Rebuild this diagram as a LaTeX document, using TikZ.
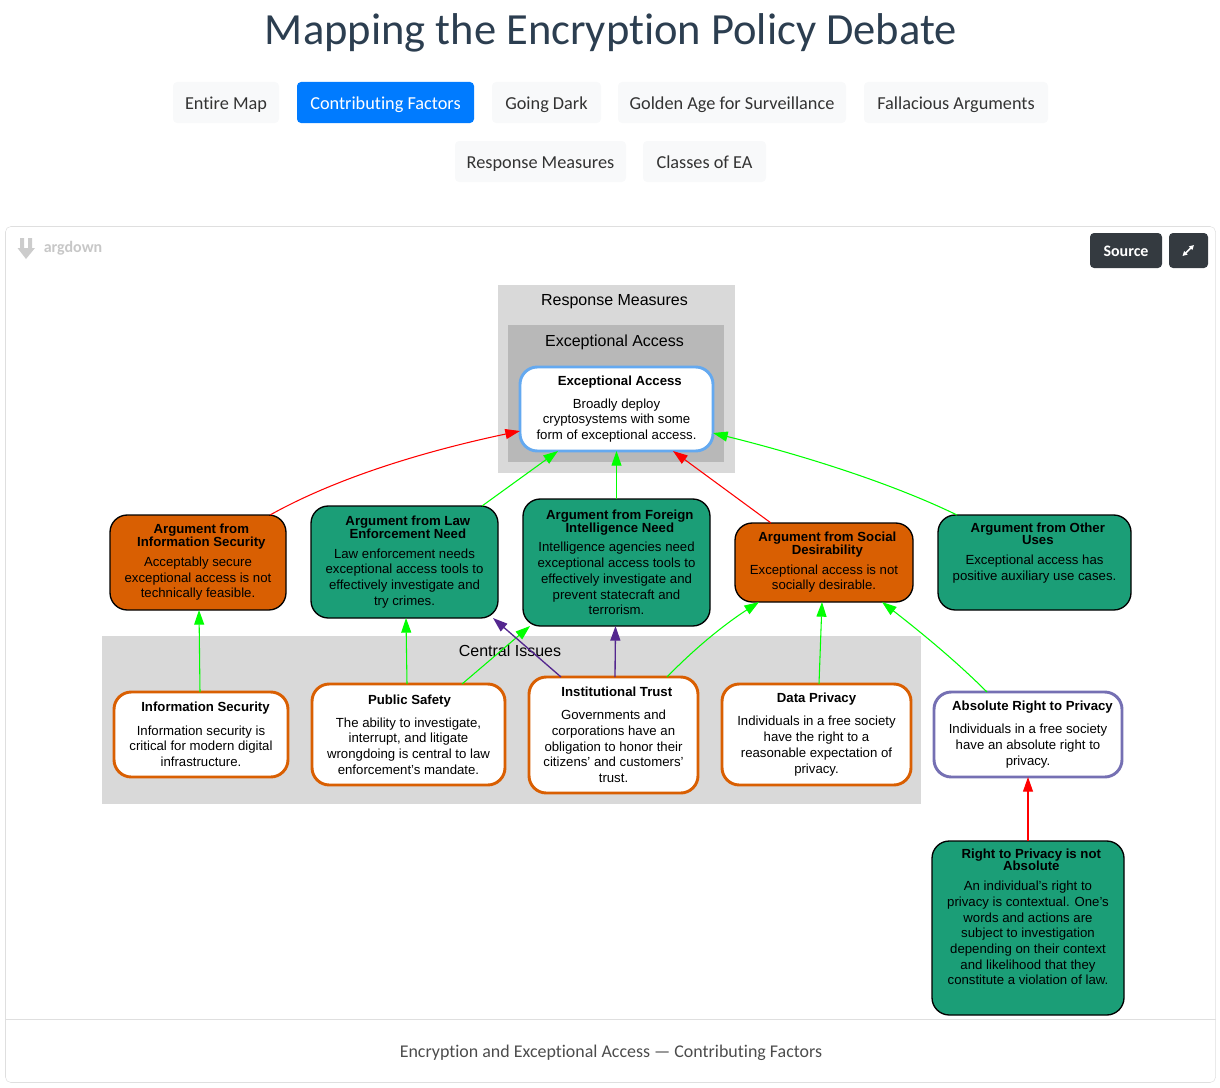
\documentclass[tikz,border=0pt]{standalone}
\usepackage{fontspec}
\setmainfont{Liberation Sans}
\newfontfamily\pagefont[Ligatures=NoCommon]{Carlito}
\usetikzlibrary{arrows.meta, calc}

\definecolor{argorange}{HTML}{D95F02}
\definecolor{arggreen}{HTML}{1B9E77}
\definecolor{argpurple}{HTML}{7570B3}
\definecolor{attackred}{HTML}{FF0000}
\definecolor{supportgreen}{HTML}{00FF00}
\definecolor{undercut}{HTML}{54278F}
\definecolor{clusterlight}{HTML}{D9D9D9}
\definecolor{clusterdark}{HTML}{B8B8B8}
\definecolor{accessblue}{HTML}{64A9F0}
\definecolor{btnlight}{HTML}{F8F9FA}
\definecolor{btnblue}{HTML}{007BFF}
\definecolor{btndark}{HTML}{343A40}
\definecolor{titleink}{HTML}{2C3E50}
\definecolor{cardline}{HTML}{DFDFDF}

\def\px{0.75pt}
\newcommand{\tl}[2][5pt]{\hspace*{#1}\textbf{#2}}

\begin{document}
\begin{tikzpicture}[
    x=0.75pt, y=-0.75pt,
    boxnode/.style={rounded corners=13pt,inner sep=0pt,outer sep=0pt,align=center,text=black,
        font=\fontsize{9.9}{11.8}\selectfont},
    argnode/.style={boxnode,draw=black,line width=1pt},
    orangearg/.style={argnode,fill=argorange},
    greenarg/.style={argnode,fill=arggreen},
    issuenode/.style={boxnode,draw=argorange,fill=white,line width=2.2pt},
    clusternode/.style={inner sep=0pt,font=\fontsize{12}{14}\selectfont},
    btn/.style={rounded corners=3pt,inner sep=0pt,minimum height=41*\px,
        text height=11pt,text depth=1.2pt,
        font=\pagefont\fontsize{13.7}{16}\selectfont,text=black!80},
    lightbtn/.style={btn,fill=btnlight},
    darkbtn/.style={btn,fill=btndark,text=white,minimum height=35*\px,text height=10.5pt,text depth=1.3pt,
        font=\pagefont\bfseries\fontsize{12}{14}\selectfont},
    support/.style={draw=supportgreen,line width=0.8pt,-{Triangle[length=11pt,width=7.5pt]}},
    attack/.style={draw=attackred,line width=0.8pt,-{Triangle[length=11pt,width=7.5pt]}},
    undercutarrow/.style={draw=undercut,line width=1pt,-{Triangle[length=11pt,width=7.5pt]}}
]
\useasboundingbox (0,0) rectangle (1220,1088);

% page header
\node[font=\pagefont\fontsize{33.4}{36}\selectfont,text=titleink] (title) at (611,33) {Mapping the Encryption Policy Debate};
\node[lightbtn,minimum width=106*\px] (entire) at (226,102.5) {Entire Map};
\node[btn,fill=btnblue,text=white,minimum width=177*\px] (factors) at (385.5,102.5) {Contributing Factors};
\node[lightbtn,minimum width=109*\px] (dark) at (546.5,102.5) {Going Dark};
\node[lightbtn,minimum width=228*\px] (golden) at (732,102.5) {Golden Age for Surveillance};
\node[lightbtn,minimum width=184*\px] (fallacious) at (956,102.5) {Fallacious Arguments};
\node[lightbtn,minimum width=171*\px] (measures) at (540.5,161.5) {Response Measures};
\node[lightbtn,minimum width=123*\px] (classes) at (704.5,161.5) {Classes of EA};

% card
\draw[cardline,rounded corners=4pt] (5.5,226.5) rectangle (1215.5,1082.5);
\draw[cardline] (5.5,1019.5) -- (1215.5,1019.5);
\fill[black!20] (20,238) rectangle (24,250) (28,238) rectangle (32,250);
\fill[black!20] (17.5,248) -- (26,259) -- (35,248) -- cycle;
\node[font=\pagefont\bfseries\fontsize{12}{14}\selectfont,text=black!22] (logo) at (73,248) {argdown};
\node[darkbtn,minimum width=72*\px] (source) at (1126,250.5) {Source};
\node[darkbtn,minimum width=39*\px] (expand) at (1188.5,250.5) {};
\draw[white,line width=1.2pt,{Triangle[length=3.5pt,width=3.5pt]}-{Triangle[length=3.5pt,width=3.5pt]}] (1182.5,256) -- (1194,245);
\node[font=\pagefont\fontsize{13.45}{16}\selectfont,text=black!70,text height=10.5pt,text depth=1.5pt] (caption) at (611,1051) {Encryption and Exceptional Access — Contributing Factors};

% clusters
\fill[clusterlight] (498,285) rectangle (735,473);
\fill[clusterdark] (508,325) rectangle (724,462);
\fill[clusterlight] (102,636) rectangle (921,804);
\node[clusternode] (responselabel) at (614.5,301.5) {Response Measures};
\node[clusternode] (accesslabel) at (614.5,342) {Exceptional Access};
\node[clusternode] (issueslabel) at (510,651) {Central Issues};

% response measure
\node[issuenode,draw=accessblue,minimum width=193*\px,minimum height=84*\px] (access) at (616.5,409) {\tl{Exceptional Access}\\[5.5pt]Broadly deploy\\cryptosystems with some\\form of exceptional access.};

% arguments
\node[orangearg,minimum width=176*\px,minimum height=95*\px] (securityarg) at (198,562.5) {\tl{Argument from}\\[-2.3pt]\tl{Information Security}\\[3pt]Acceptably secure\\exceptional access is not\\technically feasible.};
\node[greenarg,minimum width=187*\px,minimum height=112*\px] (lawarg) at (404.5,562) {\tl{Argument from Law}\\[-2.3pt]\tl{Enforcement Need}\\[3pt]Law enforcement needs\\exceptional access tools to\\effectively investigate and\\try crimes.};
\node[greenarg,minimum width=187*\px,minimum height=127*\px] (foreignarg) at (616.5,562.5) {\tl{Argument from Foreign}\\[-2.3pt]\tl{Intelligence Need}\\[3pt]Intelligence agencies need\\exceptional access tools to\\effectively investigate and\\prevent statecraft and\\terrorism.};
\node[orangearg,minimum width=178*\px,minimum height=79*\px] (socialarg) at (824,562.5) {\tl{Argument from Social}\\[-2.3pt]\tl{Desirability}\\[3pt]Exceptional access is not\\socially desirable.};
\node[greenarg,minimum width=193*\px,minimum height=95*\px] (otherarg) at (1034.5,562.5) {\tl{Argument from Other}\\[-2.3pt]\tl{Uses}\\[3pt]Exceptional access has\\positive auxiliary use cases.\\[4.7pt]};
\node[greenarg,minimum width=192*\px,minimum height=174*\px] (notabsolute) at (1028,928) {\tl{Right to Privacy is not}\\[-2.3pt]\tl{Absolute}\\[3pt]An individual's right to\\privacy is contextual. One's\\words and actions are\\subject to investigation\\depending on their context\\and likelihood that they\\constitute a violation of law.\\[5pt]};

% central issues
\node[issuenode,minimum width=174*\px,minimum height=85*\px] (security) at (201,734.5) {\tl[6.75pt]{Information Security}\\[5.5pt]Information security is\\critical for modern digital\\infrastructure.};
\node[issuenode,minimum width=193*\px,minimum height=101*\px] (safety) at (408.5,734.5) {\tl[1.5pt]{Public Safety}\\[5.5pt]The ability to investigate,\\interrupt, and litigate\\wrongdoing is central to law\\enforcement's mandate.};
\node[issuenode,minimum width=169*\px,minimum height=116*\px] (trust) at (613.5,735) {\tl{Institutional Trust}\\[5.5pt]Governments and\\corporations have an\\obligation to honor their\\citizens' and customers'\\trust.};
\node[issuenode,minimum width=189*\px,minimum height=101*\px] (privacy) at (816.5,734.5) {\tl[0pt]{Data Privacy}\\[5.5pt]Individuals in a free society\\have the right to a\\reasonable expectation of\\privacy.};
\node[issuenode,draw=argpurple,minimum width=188*\px,minimum height=85*\px] (absolute) at (1028,734.5) {\tl[6.75pt]{Absolute Right to Privacy}\\[5.5pt]Individuals in a free society\\have an absolute right to\\privacy.};

% relations to exceptional access
\draw[attack] ($(securityarg.north)+(72,0)$) .. controls (340,476) and (430,450) .. ($(access.west)+(0,22)$);
\draw[support] ($(lawarg.north)+(77.5,0)$) -- ($(access.south)+(-58.5,0)$);
\draw[support] (foreignarg.north) -- (access.south);
\draw[attack] ($(socialarg.north)+(-53,0)$) -- ($(access.south)+(56.5,0)$);
\draw[support] ($(otherarg.north)+(-77.5,0)$) .. controls (885,480) and (790,452) .. ($(access.east)+(0,24)$);

% relations from central issues
\draw[support] ($(security.north)+(-1,0)$) -- ($(securityarg.south)+(1,0)$);
\draw[support] ($(safety.north)+(-1.5,0)$) -- ($(lawarg.south)+(1.5,0)$);
\draw[support] ($(safety.north)+(53.5,0)$) -- ($(foreignarg.south)+(-86.5,0)$);
\draw[undercutarrow] ($(trust.north)+(-52.5,0)$) -- ($(lawarg.south)+(88.5,0)$);
\draw[undercutarrow] ($(trust.north)+(1.5,0)$) -- ($(foreignarg.south)+(-1,0)$);
\draw[support] ($(trust.north)+(53.5,0)$) .. controls (698,645) and (728,622) .. ($(socialarg.south)+(-65,0)$);
\draw[support] ($(privacy.north)+(2.5,0)$) -- ($(socialarg.south)+(-2,0)$);
\draw[support] ($(absolute.north)+(-41,0)$) .. controls (955,660) and (918,630) .. ($(socialarg.south)+(58,0)$);
\draw[attack] (notabsolute.north) -- (absolute.south);
\end{tikzpicture}
\end{document}
